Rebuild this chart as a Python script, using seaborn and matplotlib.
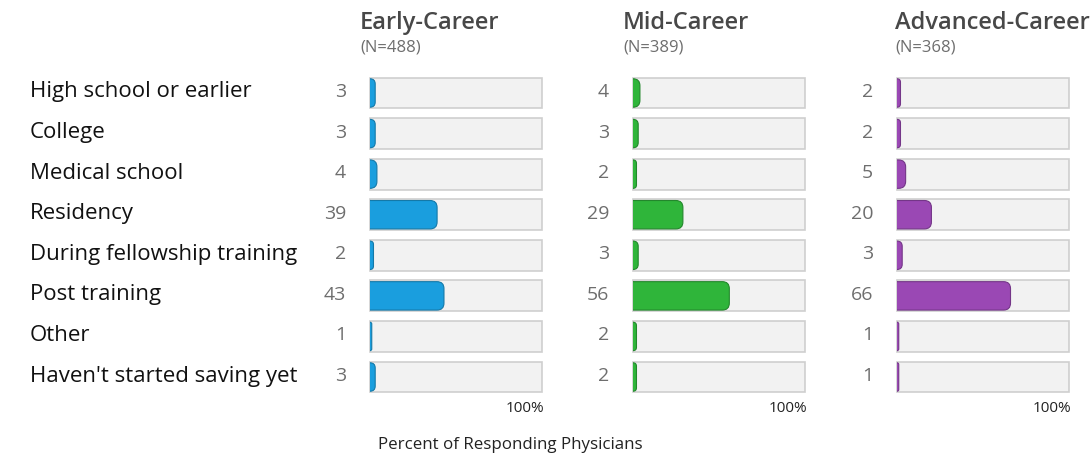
import matplotlib
matplotlib.use("Agg")
import matplotlib.pyplot as plt
from matplotlib.patches import FancyBboxPatch
import seaborn as sns
import pandas as pd

stages = [
    "High school or earlier",
    "College",
    "Medical school",
    "Residency",
    "During fellowship training",
    "Post training",
    "Other",
    "Haven't started saving yet",
]
groups = ["Early-Career", "Mid-Career", "Advanced-Career"]
group_n = ["(N=488)", "(N=389)", "(N=368)"]
early = [3, 3, 4, 39, 2, 43, 1, 3]
mid = [4, 3, 2, 29, 3, 56, 2, 2]
advanced = [2, 2, 5, 20, 3, 66, 1, 1]
colors = ["#1a9ede", "#2fb53a", "#9a48b4"]
edges = ["#1479a8", "#23872c", "#743688"]

sns.set_theme(style="white")
plt.rcParams["font.family"] = ["Open Sans", "DejaVu Sans"]

W, H = 1091, 453
fig = plt.figure(figsize=(W / 100, H / 100), dpi=100)

track_left = [369, 632, 896]
title_left = [360, 623, 895]
track_w = 174
top_px, bot_px = 72.7, 397.3
xmin, xmax = -0.6, 100.6

series = [early, mid, advanced]
for k, (name, vals) in enumerate(zip(groups, series)):
    ax = fig.add_axes([track_left[k] / W, 1 - bot_px / H, track_w / W, (bot_px - top_px) / H])
    df = pd.DataFrame({"stage": stages, "pct": vals, "full": [100] * len(stages)})

    sns.barplot(data=df, x="full", y="stage", ax=ax, color="#f2f2f2",
                edgecolor="#cfcfcf", linewidth=1.2, width=0.76, saturation=1)
    tracks = list(ax.patches)
    sns.barplot(data=df, x="pct", y="stage", ax=ax, color=colors[k],
                edgecolor=edges[k], linewidth=0.8, width=0.70, saturation=1)
    bars = list(ax.patches)[len(tracks):]

    ax.set_xlim(xmin, xmax)
    ax.set_ylim(len(stages) - 0.5, -0.5)

    # round the right end of each bar, keeping the left end flat against the track
    px_per_x = track_w / (xmax - xmin)
    px_per_y = (bot_px - top_px) / len(stages)
    aspect = px_per_x / px_per_y
    radius = 7 / px_per_x
    for t, b in zip(tracks, bars):
        x0, y0, w, h = b.get_x(), b.get_y(), b.get_width(), b.get_height()
        rr = min(radius, w)
        fb = FancyBboxPatch((x0 - rr, y0), w + rr, h,
                            boxstyle=f"round,pad=0,rounding_size={rr}",
                            mutation_aspect=aspect, facecolor=b.get_facecolor(),
                            edgecolor=edges[k], linewidth=0.8, zorder=b.get_zorder())
        ax.add_patch(fb)
        fb.set_clip_path(t)
        b.remove()

    ax.set_xlabel("")
    ax.set_ylabel("")
    ax.set_xticks([])
    ax.set_yticks([])
    for s in ax.spines.values():
        s.set_visible(False)
    for i, v in enumerate(vals):
        ax.annotate(f"{v}", xy=(0, i), xytext=(-24, 1), textcoords="offset pixels",
                    ha="right", va="center", fontsize=14, color="#6e6e6e")
    ax.annotate("100%", xy=(100, 0), xycoords=("data", "axes fraction"),
                xytext=(2, -4), textcoords="offset pixels",
                ha="right", va="top", fontsize=11, color="#222222")
    fig.text(title_left[k] / W, 1 - 23 / H, name, ha="left", va="center",
             fontsize=17, fontweight="semibold", color="#484848")
    fig.text(title_left[k] / W, 1 - 47 / H, group_n[k], ha="left", va="center",
             fontsize=12, color="#6e6e6e")
    if k == 0:
        for i, s in enumerate(stages):
            ax.annotate(s, xy=(0, i), xycoords=("axes fraction", "data"),
                        xytext=(30 - track_left[0], 1), textcoords="offset pixels",
                        ha="left", va="center", fontsize=16, color="#111111")

fig.text(510 / W, 1 - 445 / H, "Percent of Responding Physicians", ha="center",
         va="center", fontsize=12.2, color="#222222")

fig.savefig("out.png", dpi=100)
